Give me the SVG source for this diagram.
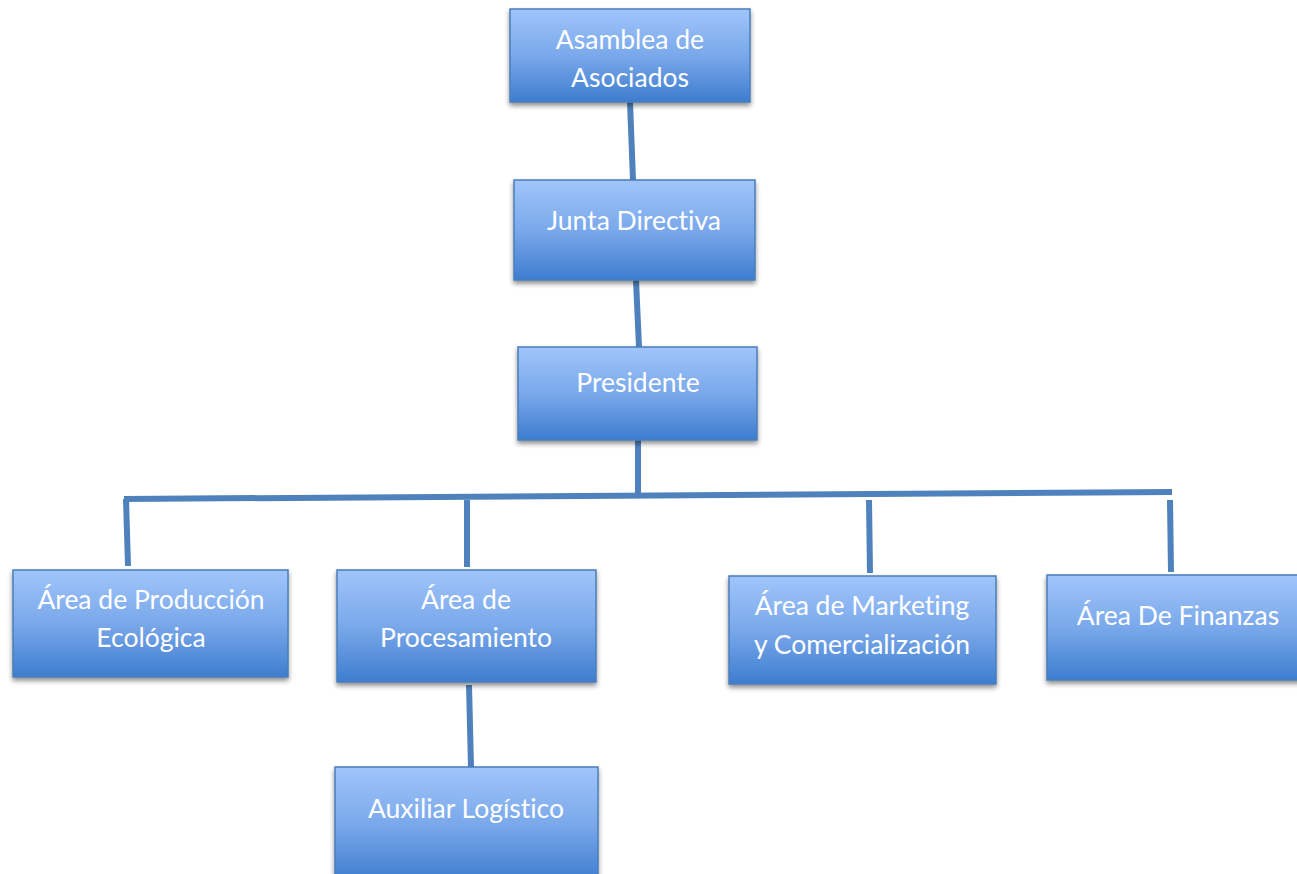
<svg xmlns="http://www.w3.org/2000/svg" width="1297" height="874" viewBox="0 0 1297 874">
<defs>
<linearGradient id="g" x1="0" y1="0" x2="0" y2="1">
<stop offset="0" stop-color="#a0c5fb"/>
<stop offset="0.5" stop-color="#7aa8ea"/>
<stop offset="1" stop-color="#3d7dcf"/>
</linearGradient>
<filter id="sh" x="-10%" y="-10%" width="120%" height="130%">
<feGaussianBlur in="SourceAlpha" stdDeviation="2.5"/>
<feOffset dx="0" dy="3" result="b"/>
<feComponentTransfer><feFuncA type="linear" slope="0.45"/></feComponentTransfer>
<feMerge><feMergeNode/><feMergeNode in="SourceGraphic"/></feMerge>
</filter>
</defs>
<style>
.box{fill:url(#g);stroke:#4a7ebb;stroke-width:1.5;filter:url(#sh)}
.t{font-family:Lato,"Open Sans","Liberation Sans",sans-serif;font-size:26.5px;font-weight:400;fill:#ffffff;text-anchor:middle;font-variant-ligatures:none}
.c{stroke:#4f81bd;stroke-width:6;fill:none;stroke-linecap:butt}
</style>
<rect width="1297" height="874" fill="#ffffff"/>
<g id="connectors">
<line class="c" x1="630" y1="102" x2="633" y2="180"/>
<line class="c" x1="636" y1="280" x2="639" y2="347"/>
<line class="c" x1="638" y1="440" x2="638" y2="495"/>
<line class="c" x1="124" y1="499" x2="1172" y2="492"/>
<line class="c" x1="126" y1="499" x2="128" y2="566"/>
<line class="c" x1="467" y1="500" x2="467" y2="567"/>
<line class="c" x1="869" y1="500" x2="870" y2="573"/>
<line class="c" x1="1170" y1="500" x2="1171" y2="572"/>
<line class="c" x1="469" y1="685" x2="471" y2="767"/>
</g>
<g id="asamblea">
<rect class="box" x="510" y="9" width="240" height="93"/>
<text class="t" x="630" y="49">Asamblea de</text>
<text class="t" x="630" y="87">Asociados</text>
</g>
<g id="junta">
<rect class="box" x="514" y="180" width="241" height="100"/>
<text class="t" x="634" y="230">Junta Directiva</text>
</g>
<g id="presidente">
<rect class="box" x="518" y="347" width="239" height="93"/>
<text class="t" x="638" y="392">Presidente</text>
</g>
<g id="produccion">
<rect class="box" x="13" y="570" width="275" height="107"/>
<text class="t" x="151" y="609">Área de Producción</text>
<text class="t" x="151" y="647">Ecológica</text>
</g>
<g id="procesamiento">
<rect class="box" x="337" y="570" width="259" height="112"/>
<text class="t" x="466" y="609">Área de</text>
<text class="t" x="466" y="647">Procesamiento</text>
</g>
<g id="marketing">
<rect class="box" x="729" y="576" width="267" height="108"/>
<text class="t" x="862" y="615">Área de Marketing</text>
<text class="t" x="862" y="654">y Comercialización</text>
</g>
<g id="finanzas">
<rect class="box" x="1047" y="575" width="256" height="105"/>
<text class="t" x="1178" y="625">Área De Finanzas</text>
</g>
<g id="auxiliar">
<rect class="box" x="335" y="767" width="263" height="115"/>
<text class="t" x="466" y="818">Auxiliar Logístico</text>
</g>
</svg>
